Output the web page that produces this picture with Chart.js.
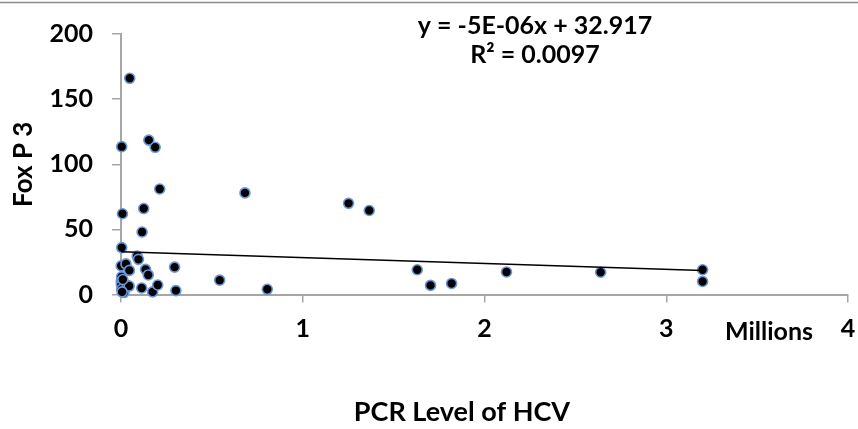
<!DOCTYPE html>
<html lang="en">
<head>
  <meta charset="UTF-8" />
  <title>Fox P 3 vs PCR Level of HCV</title>
  <script src="https://cdn.jsdelivr.net/npm/chart.js"></script>
  <style>
    html, body { margin: 0; padding: 0; background: #fff; }
    #wrap { width: 858px; height: 429px; }
  </style>
</head>
<body>
<div id="wrap"><canvas id="chart" width="858" height="429"></canvas></div>

<script>
// PCR level (millions) and Fox P3 values
const pcrMillions = [
  0.048, 0.004, 0.153, 0.188, 0.213, 0.682, 0.008, 0.125, 0.116, 0.004,
  0.089, 0.096, 0.001, 0.027, 0.046, 0.135, 0.150, 0.295, 0.003, 0.001,
  0.002, 0.004, 0.016, 0.035, 0.045, 0.114, 0.174, 0.202, 0.302, 0.543,
  0.805, 1.252, 1.366, 1.630, 1.703, 1.819, 2.121, 2.639, 3.200, 3.200,
  0.010, 0.006
];
const foxP3 = [
  166, 113.5, 118.5, 113, 81, 78, 62, 66, 48, 36,
  29.5, 27, 22, 23.5, 18.5, 19.3, 15, 21, 13.5, 10,
  7.5, 4, 1.5, 7, 6.5, 5, 2, 7.3, 3, 11,
  4, 70, 64.5, 19, 7, 8.5, 17.3, 17.1, 19, 10,
  11.5, 2
];

// linear trendline as drawn (start / end)
const trendX = [0.001, 3.2];
const trendY = [32.9, 18.5];

const xTickLabels = ['0', '1', '2', '3', '4'];
const yTickLabels = ['0', '50', '100', '150', '200'];
const equationLines = ['y = -5E-06x + 32.917', 'R\u00B2 = 0.0097'];
const xUnitLabel = 'Millions';
const xTitle = 'PCR Level of HCV';
const yTitle = 'Fox P 3';

const FONT = 'Lato, "Open Sans", sans-serif';
const axisGray = '#a6a6a6';

const points = pcrMillions.map((x, i) => ({ x: x, y: foxP3[i] }));
const trend = trendX.map((x, i) => ({ x: x, y: trendY[i] }));

// extra texts: trendline equation, display unit, x title, top frame line
const extras = {
  id: 'extras',
  beforeDraw(chart) {
    const ctx = chart.ctx;
    ctx.save();
    ctx.strokeStyle = '#8c8c8c';
    ctx.lineWidth = 1.5;
    ctx.beginPath();
    ctx.moveTo(0, 2.5);
    ctx.lineTo(chart.width, 2.5);
    ctx.stroke();
    ctx.restore();
  },
  afterDraw(chart) {
    const ctx = chart.ctx;
    const xs = chart.scales.x;
    const area = chart.chartArea;
    ctx.save();
    ctx.fillStyle = '#000';
    ctx.font = 'bold 25px ' + FONT;
    ctx.textAlign = 'center';
    ctx.textBaseline = 'alphabetic';
    ctx.fillText(equationLines[0], 535, 34);
    ctx.fillText(equationLines[1], 535, 63);

    ctx.textAlign = 'right';
    ctx.fillText(xUnitLabel, xs.getPixelForValue(4) - 35, 340);

    ctx.font = 'bold 27px ' + FONT;
    ctx.textAlign = 'center';
    ctx.fillText(xTitle, area.left + (area.right - area.left) * 0.469, 421);
    ctx.restore();
  }
};

const chart = new Chart(document.getElementById('chart').getContext('2d'), {
  type: 'scatter',
  data: {
    datasets: [
      {
        label: 'Fox P 3',
        data: points,
        order: 1,
        clip: false,
        pointRadius: 5,
        pointHoverRadius: 5,
        pointBackgroundColor: '#000',
        pointBorderColor: '#6b97d8',
        pointBorderWidth: 1.6
      },
      {
        label: 'Linear trend',
        type: 'line',
        data: trend,
        order: 0,
        showLine: true,
        borderColor: '#000',
        borderWidth: 1.5,
        pointRadius: 0,
        fill: false
      }
    ]
  },
  options: {
    responsive: false,
    animation: false,
    layout: { padding: { left: 0, right: 10, top: 34, bottom: 0 } },
    plugins: { legend: { display: false }, tooltip: { enabled: false } },
    scales: {
      x: {
        type: 'linear',
        min: 0, max: 4,
        afterFit(scale) {
          scale.height = 134.5;
          scale.paddingLeft = 0;
          scale.paddingRight = 0;
        },
        afterBuildTicks(scale) {
          scale.ticks = xTickLabels.map(v => ({ value: Number(v) }));
        },
        ticks: {
          padding: 11,
          color: '#000',
          font: { family: FONT, size: 25, weight: 'bold' },
          callback: (v, i) => xTickLabels[i]
        },
        grid: { drawOnChartArea: false, drawTicks: true, tickLength: 8, color: axisGray, lineWidth: 1.5 },
        border: { color: axisGray, width: 2 },
        title: { display: false }
      },
      y: {
        type: 'linear',
        min: 0, max: 200,
        afterFit(scale) { scale.width = 121; },
        afterBuildTicks(scale) {
          scale.ticks = yTickLabels.map(v => ({ value: Number(v) }));
        },
        ticks: {
          padding: 19,
          color: '#000',
          font: { family: FONT, size: 25, weight: 'bold' },
          callback: (v, i) => yTickLabels[i]
        },
        grid: { drawOnChartArea: false, drawTicks: true, tickLength: 9, color: axisGray, lineWidth: 1.5 },
        border: { color: axisGray, width: 2 },
        title: {
          display: true,
          text: yTitle,
          color: '#000',
          font: { family: FONT, size: 26, weight: 'bold' },
          padding: { top: 8, bottom: 0 }
        }
      }
    }
  },
  plugins: [extras]
});
</script>
</body>
</html>
